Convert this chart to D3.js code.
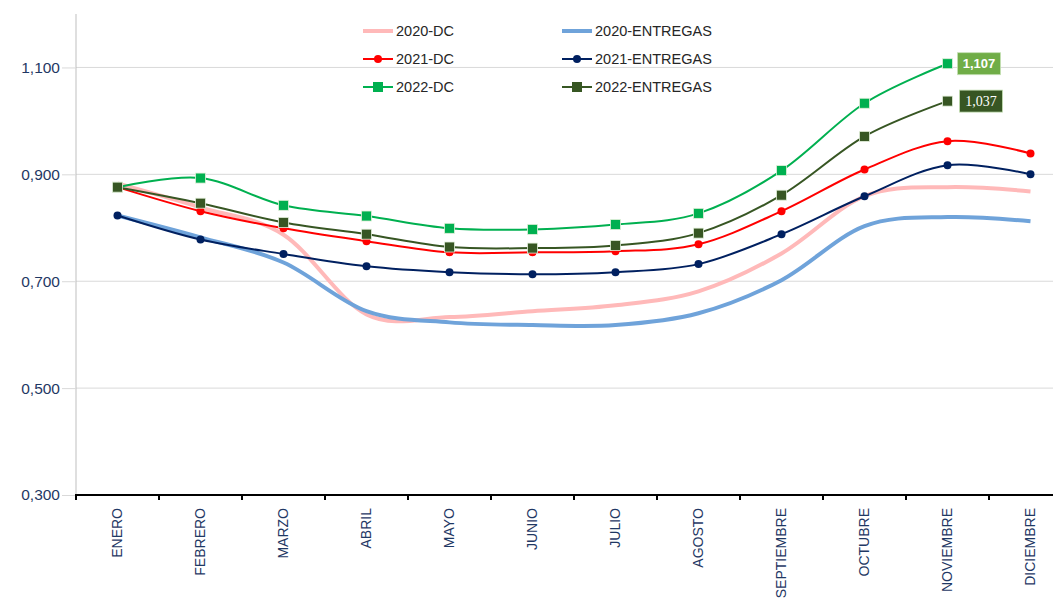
<!DOCTYPE html>
<html><head><meta charset="utf-8">
<script src="https://cdn.jsdelivr.net/npm/d3@7"></script>
<style>body{margin:0;background:#fff}svg{display:block}</style>
</head><body>
<svg id="c" width="1053" height="602"></svg>
<script>
const months = ["ENERO","FEBRERO","MARZO","ABRIL","MAYO","JUNIO","JULIO","AGOSTO","SEPTIEMBRE","OCTUBRE","NOVIEMBRE","DICIEMBRE"];
const yTicks = [0.3, 0.5, 0.7, 0.9, 1.1];
const dc2020 = [0.883, 0.838, 0.787, 0.638, 0.633, 0.644, 0.655, 0.681, 0.752, 0.859, 0.876, 0.868];
const ent2020 = [0.823, 0.782, 0.735, 0.644, 0.623, 0.618, 0.618, 0.640, 0.702, 0.803, 0.820, 0.812];
const dc2021 = [0.876, 0.831, 0.799, 0.775, 0.754, 0.754, 0.756, 0.769, 0.831, 0.909, 0.962, 0.939];
const ent2021 = [0.823, 0.778, 0.751, 0.728, 0.717, 0.713, 0.717, 0.732, 0.788, 0.859, 0.917, 0.900];
const dc2022 = [0.876, 0.893, 0.842, 0.822, 0.799, 0.797, 0.806, 0.827, 0.907, 1.033, 1.107];
const ent2022 = [0.876, 0.846, 0.810, 0.788, 0.764, 0.762, 0.767, 0.790, 0.861, 0.971, 1.037];

const series = [
  {name:"2020-DC", values:dc2020, color:"#FFB9B9", width:4, marker:null},
  {name:"2020-ENTREGAS", values:ent2020, color:"#6FA3DA", width:4, marker:null},
  {name:"2021-DC", values:dc2021, color:"#FF0000", width:2, marker:"circle"},
  {name:"2021-ENTREGAS", values:ent2021, color:"#002060", width:2, marker:"circle"},
  {name:"2022-DC", values:dc2022, color:"#00B050", width:2, marker:"square"},
  {name:"2022-ENTREGAS", values:ent2022, color:"#375623", width:2, marker:"square"}
];

const svg = d3.select("#c");
const x = d3.scaleBand().domain(months).range([76, 1072]);
const y = d3.scaleLinear().domain([0.3, 1.2]).range([495, 14]);
const fmt = v => d3.format(".3f")(v).replace(".", ",");
const navy = "#1F3864";

// gridlines
svg.append("g").selectAll("line").data(yTicks.slice(1)).join("line")
  .attr("x1", 76).attr("x2", 1053).attr("y1", d => y(d)).attr("y2", d => y(d))
  .attr("stroke", "#D9D9D9").attr("stroke-width", 1);

// y axis
const ya = svg.append("g").attr("transform", "translate(76,0)")
  .call(d3.axisLeft(y).tickValues(yTicks).tickFormat(fmt).tickSize(14).tickPadding(2));
ya.select(".domain").attr("stroke", "#BFBFBF").attr("d", `M0,${y(1.2)}V${y(0.3)}`);
ya.selectAll(".tick line").attr("stroke", "#D9D9D9");
ya.selectAll(".tick text").attr("fill", navy).attr("font-family", "Liberation Sans, Arial, sans-serif").attr("font-size", 15.5);

// x axis
const xa = svg.append("g").attr("transform", "translate(0,495)")
  .call(d3.axisBottom(x).tickSize(0).tickSizeOuter(0));
xa.select(".domain").remove();
svg.append("line").attr("x1", 75).attr("x2", 1053).attr("y1", 495).attr("y2", 495)
  .attr("stroke", "#000").attr("stroke-width", 2);
svg.append("g").selectAll("line").data(months).join("line")
  .attr("x1", d => x(d)).attr("x2", d => x(d)).attr("y1", 495).attr("y2", 500)
  .attr("stroke", "#000").attr("stroke-width", 2);
xa.selectAll(".tick text")
  .attr("fill", navy).attr("font-family", "Liberation Sans, Arial, sans-serif").attr("font-size", 14)
  .attr("transform", "rotate(-90)").attr("text-anchor", "end")
  .attr("x", -13).attr("y", 0).attr("dy", "0.35em");

// lines
const line = d3.line().x((d, i) => x(months[i]) + x.bandwidth() / 2).y(d => y(d)).curve(d3.curveCardinal.tension(0));
series.forEach(s => {
  svg.append("path").attr("d", line(s.values)).attr("fill", "none")
    .attr("stroke", s.color).attr("stroke-width", s.width).attr("stroke-linejoin", "round");
  const g = svg.append("g");
  if (s.marker === "circle") {
    g.selectAll("circle").data(s.values).join("circle")
      .attr("cx", (d, i) => x(months[i]) + x.bandwidth() / 2).attr("cy", d => y(d)).attr("r", 4)
      .attr("fill", s.color);
  } else if (s.marker === "square") {
    g.selectAll("rect").data(s.values).join("rect")
      .attr("x", (d, i) => x(months[i]) + x.bandwidth() / 2 - 5).attr("y", d => y(d) - 5)
      .attr("width", 10).attr("height", 10).attr("fill", s.color)
      .attr("stroke", "#E2EFDA").attr("stroke-width", 0.8);
  }
});

// data labels
const labels = [
  {s: dc2022, fill: "#70AD47", bold: true},
  {s: ent2022, fill: "#375623", bold: false}
];
labels.forEach(l => {
  const i = l.s.length - 1;
  const cx = x(months[i]) + x.bandwidth() / 2;
  const cy = y(l.s[i]);
  const g = svg.append("g");
  const w = 43, h = 22, x0 = cx + 10 + (l.bold ? 0 : 2);
  g.append("rect").attr("x", x0).attr("y", cy - h / 2).attr("width", w).attr("height", h)
    .attr("fill", l.fill).attr("stroke", "#C5E0B4").attr("stroke-width", 0.8);
  g.append("text").attr("x", x0 + w / 2).attr("y", cy).attr("dy", "0.35em")
    .attr("text-anchor", "middle").attr("fill", "#fff")
    .attr("font-family", l.bold ? "Liberation Sans, Arial, sans-serif" : "Liberation Serif, serif")
    .attr("font-weight", l.bold ? "bold" : "normal").attr("font-size", l.bold ? 13 : 14)
    .text(d3.format(",.3f")(l.s[i]).replace(".", ","));
});

// legend
const legPos = [[363, 31], [562, 31], [363, 59], [562, 59], [363, 87], [562, 87]];
series.forEach((s, k) => {
  const [lx, ly] = legPos[k];
  const g = svg.append("g");
  g.append("line").attr("x1", lx).attr("x2", lx + 30).attr("y1", ly).attr("y2", ly)
    .attr("stroke", s.color).attr("stroke-width", s.width);
  if (s.marker === "circle") g.append("circle").attr("cx", lx + 15).attr("cy", ly).attr("r", 4).attr("fill", s.color);
  if (s.marker === "square") g.append("rect").attr("x", lx + 10).attr("y", ly - 5).attr("width", 10).attr("height", 10).attr("fill", s.color);
  g.append("text").attr("x", lx + 33).attr("y", ly).attr("dy", "0.35em")
    .attr("font-family", "Liberation Sans, Arial, sans-serif").attr("font-size", 14.5).attr("fill", "#262626")
    .text(s.name);
});
</script>
</body></html>
